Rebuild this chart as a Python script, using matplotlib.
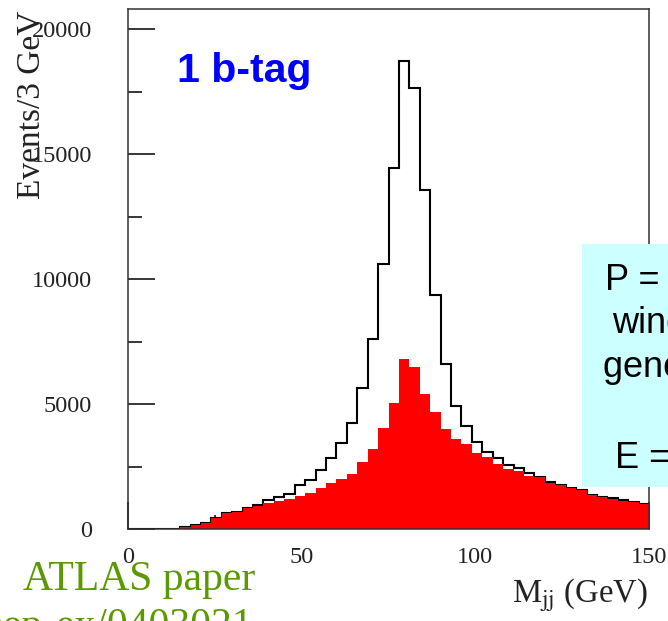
import numpy as np
import matplotlib as mpl
mpl.use('Agg')
from matplotlib import pyplot as plt
from matplotlib.patches import Rectangle

# 3 GeV bins from 0 to 150
edges = np.arange(0, 151, 3)

# all events (black outline)
all_events = [0, 0, 0, 0, 0, 80, 150, 230, 430, 630,
              690, 830, 960, 1160, 1290, 1400, 1760, 1960, 2360, 2830,
              3450, 4250, 5630, 7600, 10600, 14430, 18720, 17650, 13550, 9370,
              6590, 4930, 4130, 3490, 3100, 2830, 2560, 2430, 2230, 2090,
              1890, 1770, 1640, 1560, 1380, 1290, 1230, 1160, 1100, 1000]

# 1 b-tag events (red fill)
btag_events = [0, 0, 0, 0, 0, 80, 150, 230, 430, 630,
               690, 830, 920, 1050, 1120, 1210, 1320, 1450, 1630, 1830,
               1990, 2190, 2670, 3190, 4050, 5050, 6810, 6490, 5410, 4670,
               3990, 3590, 3400, 3050, 2870, 2590, 2400, 2310, 2120, 2070,
               1850, 1760, 1630, 1560, 1360, 1290, 1190, 1120, 1070, 990]

box_lines = ['P = purity in mass', 'window matched to', 'generator-level W', 'E = efficiency']

plt.rcParams['font.family'] = ['Liberation Serif', 'DejaVu Serif']
plt.rcParams['mathtext.fontset'] = 'stix'

fig = plt.figure(figsize=(6.68, 6.21), dpi=100)
ax = fig.add_axes([0.1916, 0.1481, 0.780, 0.8374])

ax.stairs(all_events, edges, color='black', linewidth=1.5, zorder=2)
ax.stairs(btag_events, edges, fill=True, color='#ff0000', zorder=3)

ax.set_xlim(0, 150)
ax.set_ylim(0, 20800)
ax.set_xticks([0, 50, 100, 150])
ax.set_xticks([25, 75, 125], minor=True)
ax.set_yticks([0, 5000, 10000, 15000, 20000])
ax.set_yticks([2500, 7500, 12500, 17500], minor=True)
ax.tick_params(which='both', direction='in', width=1.1, color='black',
               labelsize=17.5, labelcolor='#222222', zorder=5)
ax.tick_params(which='major', length=19.5)
ax.tick_params(which='minor', length=10)
ax.tick_params(axis='y', pad=26)
ax.tick_params(axis='x', pad=13)
for s in ax.spines.values():
    s.set_linewidth(1.1)
    s.set_color('#333333')
    s.set_zorder(6)

ax.set_ylabel('Events/3 GeV', fontsize=24, color='#222222')
ax.yaxis.set_label_coords(-0.186, 0.815)
ax.yaxis.label.set_va('center')
ax.set_xlabel('M$_{\\mathrm{jj}}$ (GeV)', fontsize=23.5, color='#222222')
ax.xaxis.set_label_coords(0.998, -0.141)
ax.xaxis.label.set_ha('right')
ax.xaxis.label.set_va('baseline')

fig.text(0.265, 0.868, '1 b-tag', fontsize=29.5, fontweight='bold', color='#0000ff',
         family=['Liberation Sans', 'DejaVu Sans'])

fig.text(0.034, 0.050, 'ATLAS paper', fontsize=30, color='#5a9a00')
fig.text(0.379, -0.026, 'hep-ex/0403021', fontsize=30, color='#5a9a00', ha='right')

fig.add_artist(Rectangle((0.871, 0.2158), 0.2, 0.391, transform=fig.transFigure,
                         facecolor='#ccffff', edgecolor='none', zorder=10))
box_pos = [(0.9057, 0.533), (0.916, 0.4638), (0.9027, 0.3929), (0.9207, 0.2464)]
for (bx, by), txt in zip(box_pos, box_lines):
    fig.text(bx, by, txt, fontsize=26, color='black', va='baseline',
             family=['Liberation Sans', 'DejaVu Sans'], zorder=11)

plt.savefig('out.png', dpi=100)
